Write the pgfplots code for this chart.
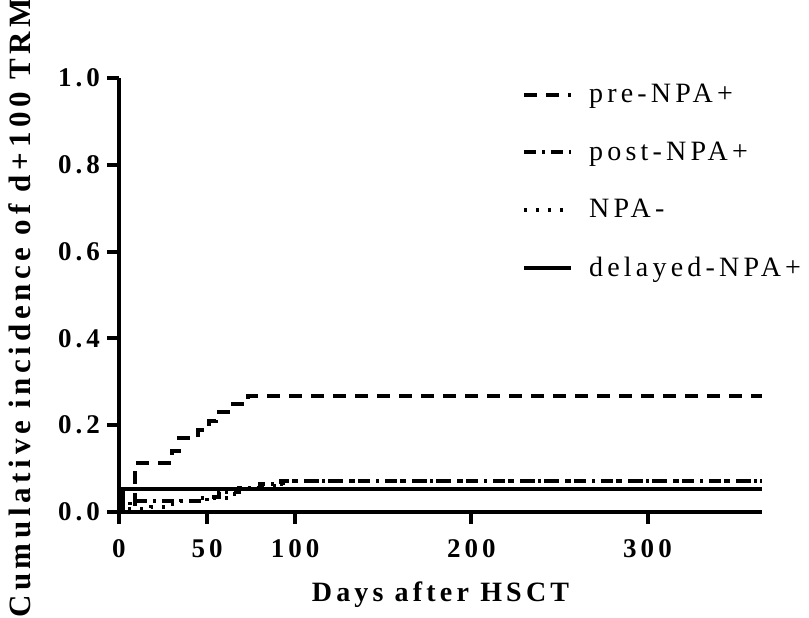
\documentclass[border=0pt]{standalone}
\usepackage{fontspec}
\setmainfont{Liberation Serif}[LetterSpace=15]
\usepackage{pgfplots}
\pgfplotsset{compat=1.18}

\begin{document}
\begin{tikzpicture}
\useasboundingbox (-59.5pt,-52.5pt) rectangle (345pt,256pt);
\begin{axis}[
    at={(0,0)}, anchor=south west,
    scale only axis, width=321.5pt, height=217pt,
    xmin=0, xmax=365, ymin=0, ymax=1,
    clip=false,
    axis lines=left,
    axis line style={-, line width=2pt},
    tick align=outside,
    major tick length=6pt,
    tick style={line width=2pt, black},
    xtick={0,50,100,200,300},
    ytick={0,0.2,0.4,0.6,0.8,1.0},
    /pgf/number format/assume math mode=true,
    yticklabel style={/pgf/number format/.cd, fixed, fixed zerofill, precision=1},
    ticklabel style={font=\fontsize{13.5}{16}\selectfont\bfseries},
    xticklabel style={yshift=-4pt},
    xlabel={Days after HSCT},
    ylabel={Cumulative incidence of d+100 TRM},
    xlabel style={font=\fontsize{14}{17}\selectfont\bfseries,
        at={(axis description cs:0.5,-0.191)}, anchor=center},
    ylabel style={font=\fontsize{15.5}{18}\selectfont\bfseries,
        at={(axis description cs:-0.154,0.47)}, anchor=center},
    legend style={draw=none, fill=none, at={(0.617,1.005)}, anchor=north west,
        font=\fontsize{14}{16}\selectfont, row sep=14pt,
        /tikz/every odd column/.append style={column sep=6pt}},
    legend cell align=left,
    legend image code/.code={\draw[#1] (0pt,0pt) -- (23.5pt,0pt);},
]
% pre-NPA+
\addplot[const plot, black, line width=2pt, dash pattern=on 6.5pt off 4.5pt] coordinates {
    (0,0) (9,0.113) (30,0.14) (34,0.17) (45,0.19) (51,0.21) (55,0.23) (62,0.249) (73,0.267) (365,0.267)
};
\addlegendentry{pre-NPA+}
% post-NPA+
\addplot[const plot, black, line width=2pt, dash pattern=on 6pt off 3pt on 1.5pt off 3pt] coordinates {
    (0,0) (6,0.025) (50,0.035) (57,0.045) (68,0.056) (80,0.064) (92,0.071) (365,0.071)
};
\addlegendentry{post-NPA+}
% NPA-
\addplot[const plot, black, line width=2pt, dash pattern=on 1.5pt off 4.5pt] coordinates {
    (0,0) (4,0.006) (18,0.012) (27,0.018) (35,0.025) (44,0.033) (62,0.042) (70,0.052) (78,0.06) (88,0.066) (96,0.071) (365,0.071)
};
\addlegendentry{NPA-}
% delayed-NPA+
\addplot[const plot, black, line width=2pt] coordinates {
    (0,0) (2,0.053) (365,0.053)
};
\addlegendentry{delayed-NPA+}
\end{axis}
\end{tikzpicture}
\end{document}
